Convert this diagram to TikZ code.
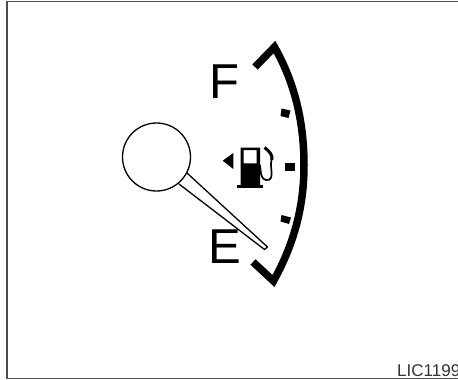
\documentclass[tikz,border=0pt]{standalone}
\usepackage{fontspec}
\setmainfont{Liberation Sans}
\begin{document}
\begin{tikzpicture}[x=1pt,y=-1pt,
  frameline/.style={draw=black!70,line width=1.6pt},
  gaugeline/.style={line width=1.3pt,draw=black},
  scalemark/.style={line width=7.5pt,draw=black,line join=miter,miter limit=10},
  tickmark/.style={fill=black,draw=none},
  bigletter/.style={font=\fontsize{49}{49}\selectfont,inner sep=0pt,anchor=base west,text=black},
  codetext/.style={font=\fontsize{17}{17}\selectfont,inner sep=0pt,anchor=base west,text=black!80}]
\useasboundingbox (0,0) rectangle (458,380);
\clip (0,0) rectangle (458,380);
\fill[white] (0,0) rectangle (458,380);
% frame
\draw[frameline] (458,1.5) -- (6.8,1.5) -- (6.8,378.3) -- (458,378.3);
% scale arc
\draw[scalemark] (255,67) -- (274.5,47) .. controls (296,85) and (304,125) .. (304,165)
   .. controls (304,205) and (295,242) .. (273.5,281) -- (253,262);
% ticks
\fill[tickmark] (281.5,108.5) -- (290.5,110.5) -- (288.5,118) -- (280.5,116) -- cycle;
\fill[tickmark] (285,163) rectangle (295,171);
\fill[tickmark] (281.5,215) -- (291,217.5) -- (289,224) -- (280.5,221.5) -- cycle;
% letters
\node[bigletter] (letterF) at (209.5,98) {F};
\node[bigletter] (letterE) at (208,263) {E};
% needle
\coordinate (hubA) at (187,173);
\coordinate (hubB) at (179,184);
\node[circle,draw=black,line width=1.3pt,minimum size=68pt,inner sep=0pt] (hub) at (156.5,157) {};
\draw[gaugeline,line join=round] (hubA) -- (267.5,247) -- (264.5,249.5) -- (hubB);
% fuel pump
\fill[black] (222.7,160.7) -- (233.3,153) -- (233.3,169) -- cycle;
\fill[black,even odd rule] (240.7,147.7) rectangle (260,185) (243.5,150) rectangle (256.7,163.3);
\fill[black] (237.3,185) rectangle (262.7,187.7);
\draw[black,line width=1.7pt] (260,165) .. controls (261,174) and (261,179) .. (266,180)
   .. controls (271.5,181) and (272,176) .. (271.5,171) .. controls (271,166) and (270.5,163) .. (272,158);
\draw[black,line width=3pt] (272,160) .. controls (273,155) and (269,151) .. (264.5,147.5);
% code
\node[codetext] (code) at (397,376.5) {LIC1199};
\end{tikzpicture}
\end{document}
